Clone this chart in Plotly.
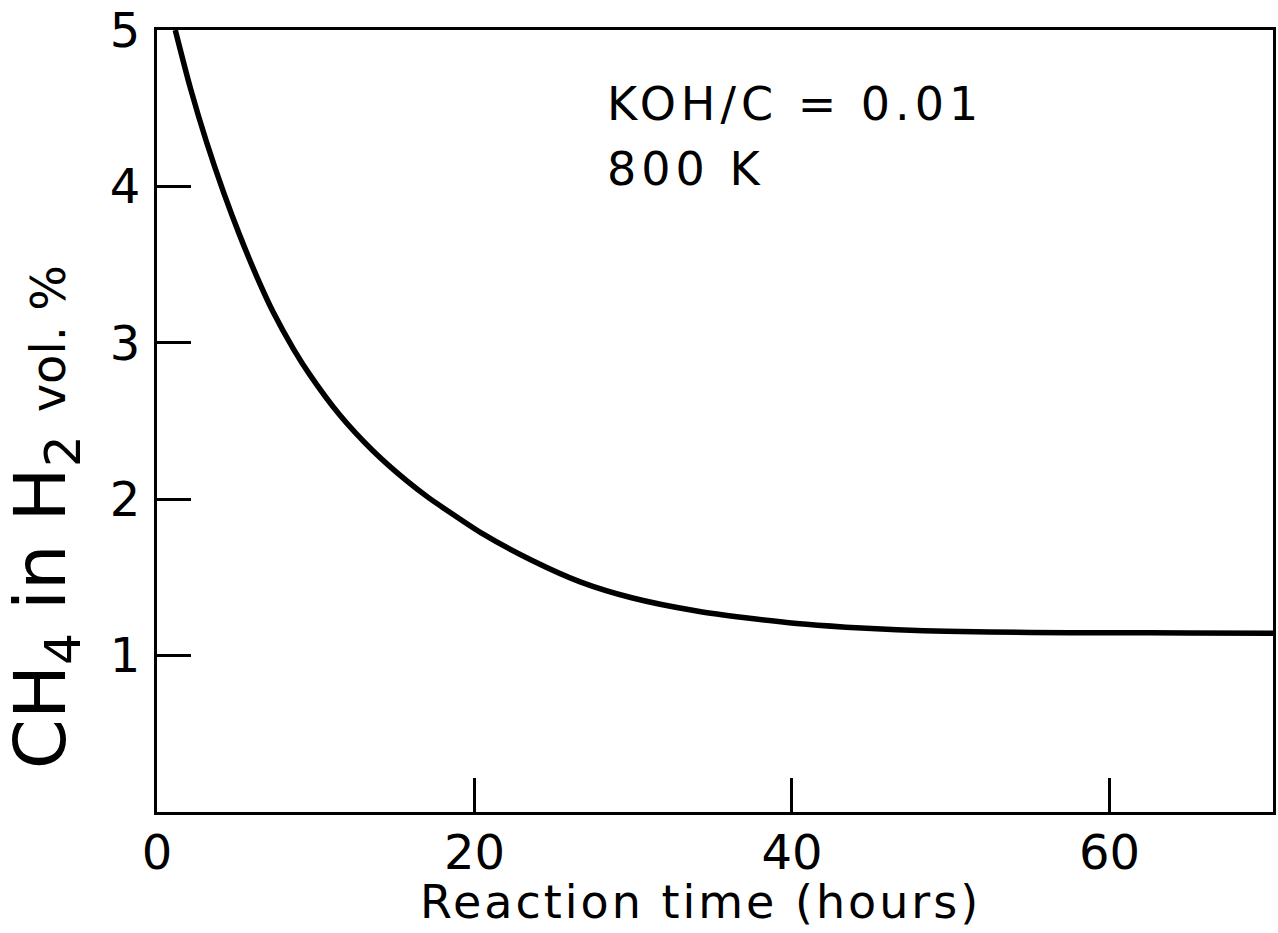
import plotly.graph_objects as go

# Data
time_h = [1.15, 2.1, 3.1, 4.2, 5.2, 6.3, 7.3, 8.6, 9.6, 11.5, 13.6, 15.7, 17.1, 18.4,
          20.5, 23.6, 26.7, 29.9, 34.0, 37.2, 40.3, 43.4, 46.6, 49.7, 55.0, 60.0, 65.0, 70.3]
ch4_pct = [5.0, 4.63, 4.29, 3.96, 3.69, 3.42, 3.20, 2.96, 2.80, 2.54, 2.31, 2.12, 2.01, 1.92,
           1.78, 1.61, 1.47, 1.37, 1.285, 1.24, 1.205, 1.182, 1.165, 1.155, 1.148, 1.146, 1.145, 1.143]

x_ticks = [0, 20, 40, 60]
x_ticklabels = ["0", "20", "40", "60"]
y_ticks = [1, 2, 3, 4, 5]
y_ticklabels = ["1", "2", "3", "4", "5"]

FONT = "DejaVu Sans"

fig = go.Figure()
fig.add_trace(go.Scatter(
    x=time_h, y=ch4_pct, mode="lines",
    line=dict(color="black", width=5.5, shape="spline", smoothing=0.8),
    showlegend=False, hoverinfo="skip",
))

axis_common = dict(
    showgrid=False, zeroline=False,
    showline=True, linecolor="black", linewidth=3, mirror=True,
    ticks="inside", ticklen=34, tickwidth=3, tickcolor="black",
    tickfont=dict(family=FONT, size=48, color="black"),
)

fig.update_xaxes(range=[0, 70.3], tickvals=x_ticks, ticktext=x_ticklabels,
                 ticklabelstandoff=-4, **axis_common)
fig.update_yaxes(range=[0, 5], tickvals=y_ticks, ticktext=y_ticklabels,
                 ticklabelstandoff=4, **axis_common)

fig.add_annotation(
    x=28.2, y=4.53, xref="x", yref="y", xanchor="left", yanchor="middle",
    text="<span style='letter-spacing:5px'>KOH/C = 0.01</span>", showarrow=False,
    font=dict(family=FONT, size=46, color="black"),
)
fig.add_annotation(
    x=28.2, y=4.11, xref="x", yref="y", xanchor="left", yanchor="middle",
    text="<span style='letter-spacing:5px'>800 K</span>", showarrow=False,
    font=dict(family=FONT, size=46, color="black"),
)

# X axis title
fig.add_annotation(
    x=(702 - 157) / 1119, y=-(902 - 812) / 782, xref="paper", yref="paper",
    xanchor="center", yanchor="middle", showarrow=False,
    text="<span style='letter-spacing:3px'>Reaction time (hours)</span>",
    font=dict(family=FONT, size=46, color="black"),
)
# Y axis title
fig.add_annotation(
    x=(45 - 157) / 1119, y=(812 - 517) / 782, xref="paper", yref="paper",
    xanchor="center", yanchor="middle", showarrow=False, textangle=-90,
    text="CH<sub>4</sub> in H<sub>2</sub> <span style='font-size:48px'>vol. %</span>",
    font=dict(family=FONT, size=72, color="black"),
)

fig.update_layout(
    width=1278, height=933,
    margin=dict(l=157, r=2, t=30, b=121),
    paper_bgcolor="white", plot_bgcolor="white",
)

fig.write_html("out.html")
